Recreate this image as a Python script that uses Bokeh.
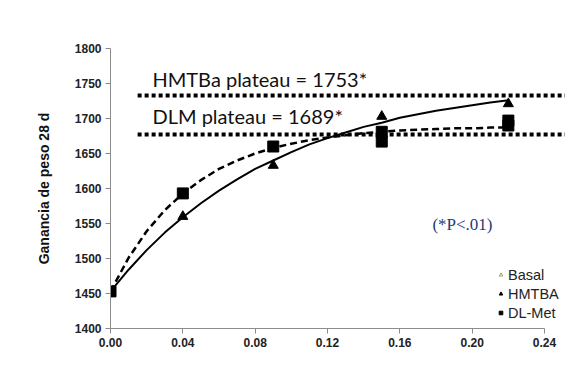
from bokeh.plotting import figure
from bokeh.models import Range1d, FixedTicker, NumeralTickFormatter, Legend, LegendItem, ColumnDataSource
from bokeh.core.properties import value
from bokeh.embed import file_html
from bokeh.resources import INLINE

# ---- data ----
basal_x = [0.0]
basal_y = [1453]

hmtba_x = [0.0, 0.04, 0.09, 0.15, 0.22]
hmtba_y = [1453, 1560, 1633, 1703, 1721]

dlmet_x = [0.0, 0.04, 0.09, 0.15, 0.15, 0.22, 0.22]
dlmet_y = [1453, 1593, 1660, 1681, 1667, 1697, 1690]

curve_x = [0.00, 0.01, 0.02, 0.03, 0.04, 0.05, 0.06, 0.07, 0.08, 0.09, 0.10, 0.11,
           0.12, 0.13, 0.14, 0.15, 0.16, 0.17, 0.18, 0.19, 0.20, 0.21, 0.22]
hmtba_fit = [1453, 1484, 1512, 1537, 1559, 1579, 1597, 1613, 1628, 1640, 1652, 1663,
             1672, 1680, 1688, 1694, 1701, 1706, 1711, 1715, 1719, 1723, 1726]
dlmet_fit = [1453, 1501, 1539, 1569, 1593, 1612, 1628, 1640, 1650, 1658, 1664, 1669,
             1673, 1676, 1679, 1681, 1683, 1684, 1685, 1686, 1686, 1687, 1687]

plateau_x = [0.015, 0.2516]
hmtba_plateau_y = 1733
dlm_plateau_y = 1677

x_ticks = [0.0, 0.04, 0.08, 0.12, 0.16, 0.20, 0.24]
y_ticks = [1400, 1450, 1500, 1550, 1600, 1650, 1700, 1750, 1800]

labels = ["HMTBa plateau = 1753*", "DLM plateau = 1689*"]
label_x = [0.0232, 0.0232]
label_y = [1756, 1703]

note_text = ["(*P<.01)"]
note_x = [0.178]
note_y = [1548]

AX = "#8c8c8c"

p = figure(width=565, height=358, output_backend="svg", toolbar_location=None,
           x_range=Range1d(0, 0.2516), y_range=Range1d(1400, 1800),
           min_border_left=110, min_border_right=0, min_border_top=48, min_border_bottom=30)
p.outline_line_color = None
p.xgrid.visible = False
p.ygrid.visible = False
p.background_fill_color = "white"

for ax in (p.xaxis[0], p.yaxis[0]):
    ax.axis_line_color = AX
    ax.major_tick_line_color = AX
    ax.minor_tick_line_color = None
    ax.major_tick_out = 5
    ax.major_tick_in = 0
    ax.major_label_text_font = "Liberation Sans"
    ax.major_label_text_font_size = "12px"
    ax.major_label_text_font_style = "bold"
    ax.major_label_text_color = "#222222"

p.xaxis.ticker = FixedTicker(ticks=x_ticks)
p.xaxis.formatter = NumeralTickFormatter(format="0.00")
p.xaxis.bounds = (0, 0.24)
p.xaxis.major_label_standoff = 4
p.yaxis.ticker = FixedTicker(ticks=y_ticks)
p.yaxis.major_label_standoff = 4
p.yaxis.axis_label = "Ganancia de peso 28 d"
p.yaxis.axis_label_text_font = "Liberation Sans"
p.yaxis.axis_label_text_font_size = "14px"
p.yaxis.axis_label_text_font_style = "bold"
p.yaxis.axis_label_text_color = "#111111"
p.yaxis.axis_label_standoff = 20

# plateau dotted lines
p.line(plateau_x, [hmtba_plateau_y] * 2, line_color="black", line_width=4, line_dash="4 3")
p.line(plateau_x, [dlm_plateau_y] * 2, line_color="black", line_width=4, line_dash="4 3")

# fitted curves
p.line(curve_x, hmtba_fit, line_color="black", line_width=2)
p.line(curve_x, dlmet_fit, line_color="black", line_width=2.5, line_dash="7 4")

# points
p.scatter(basal_x, basal_y, marker="triangle", size=10, fill_color=None, line_color="#c8c890")
p.scatter(hmtba_x, hmtba_y, marker="triangle", size=10, fill_color="black", line_color="black")
p.scatter(dlmet_x, dlmet_y, marker="square", size=11, fill_color="black", line_color="black")

# texts
p.text(label_x, label_y, text=labels, text_font=value("Lato"), text_font_size="20px",
       text_baseline="middle", text_color="#111111")
p.text(note_x, note_y, text=note_text, text_font=value("Liberation Serif"),
       text_font_size="17px", text_baseline="middle", text_color="#1f3a7a")

# legend
nan_src = ColumnDataSource(data=dict(x=[float("nan")], y=[float("nan")]))
r_b = p.scatter("x", "y", source=nan_src, marker="triangle", size=8, fill_color="#fafae0", line_color="#a0a070")
r_h = p.scatter("x", "y", source=nan_src, marker="triangle", size=8, fill_color="black", line_color="black")
r_d = p.scatter("x", "y", source=nan_src, marker="square", size=8, fill_color="black", line_color="black")
leg = Legend(items=[LegendItem(label="Basal", renderers=[r_b]),
                    LegendItem(label="HMTBA", renderers=[r_h]),
                    LegendItem(label="DL-Met", renderers=[r_d])],
             location=(386, 6), orientation="vertical")
leg.border_line_color = None
leg.background_fill_alpha = 0
leg.padding = 0
leg.margin = 0
leg.spacing = 0
leg.glyph_width = 9
leg.glyph_height = 19
leg.label_standoff = 3
leg.label_height = 19
leg.label_text_font = "Liberation Sans"
leg.label_text_font_size = "14.5px"
leg.label_text_color = "#222222"
p.add_layout(leg, "center")

open("out.html", "w").write(file_html(p, INLINE))
